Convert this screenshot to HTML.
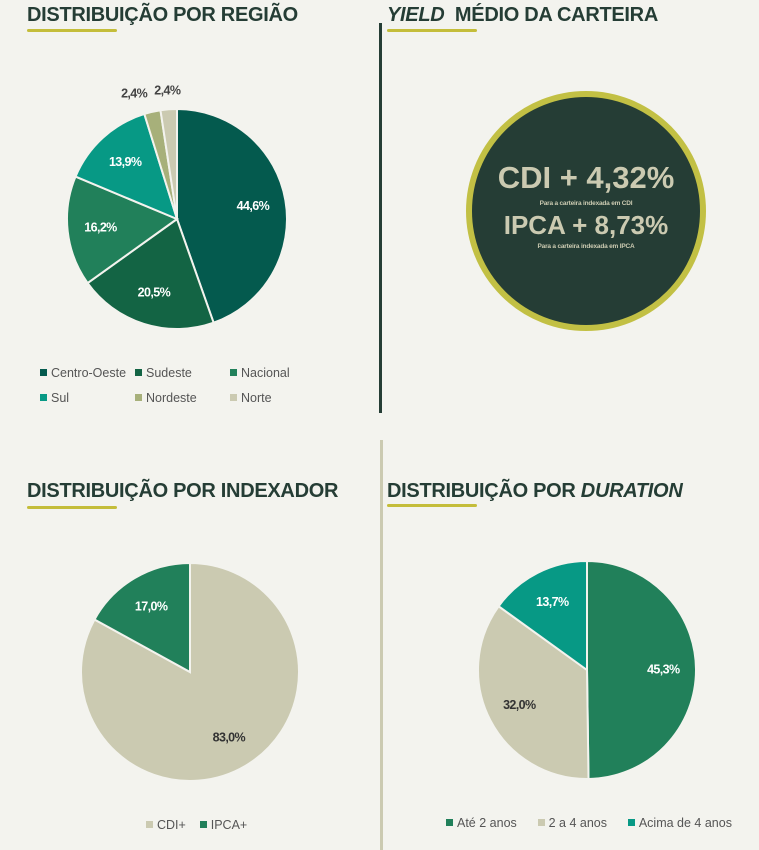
<!DOCTYPE html>
<html><head><meta charset="utf-8">
<style>
body{margin:0;background:#f3f3ee;}
#page{position:relative;width:759px;height:850px;background:#f3f3ee;font-family:"Liberation Sans",sans-serif;overflow:hidden;}
.title{position:absolute;font-weight:bold;font-size:20px;color:#253d35;letter-spacing:-0.3px;white-space:nowrap;}
.uline{position:absolute;height:3px;width:90px;background:#c4bd3a;border-radius:2px;}
.vline{position:absolute;width:3px;}
.legend{position:absolute;font-size:12.5px;color:#555;white-space:nowrap;}
.legend span.sw{display:inline-block;width:7px;height:7px;margin-right:4px;vertical-align:1px;}
svg text{font-family:"Liberation Sans",sans-serif;font-weight:bold;font-size:12.5px;letter-spacing:-0.6px;}
</style></head><body>
<div id="page">
<div class="title" style="left:27px;top:4px;">DISTRIBUIÇÃO POR REGIÃO</div>
<div class="uline" style="left:27px;top:29px;"></div>
<div class="title" style="left:387px;top:4px;"><i>YIELD</i>&nbsp; MÉDIO DA CARTEIRA</div>
<div class="uline" style="left:387px;top:29px;"></div>
<div class="title" style="left:27px;top:480px;">DISTRIBUIÇÃO POR INDEXADOR</div>
<div class="uline" style="left:27px;top:506px;"></div>
<div class="title" style="left:387px;top:480px;">DISTRIBUIÇÃO POR <i>DURATION</i></div>
<div class="uline" style="left:387px;top:504px;"></div>
<div class="vline" style="left:379px;top:23px;height:390px;background:#253d35;"></div>
<div class="vline" style="left:380px;top:440px;height:410px;background:#cbcab1;"></div>

<svg id="charts" width="759" height="850" style="position:absolute;left:0;top:0;">
<circle cx="586" cy="211" r="117" fill="#253d35" stroke="#c2c044" stroke-width="6"/>
<text x="586" y="188" text-anchor="middle" fill="#cbcab1" style="font-size:31px;letter-spacing:0">CDI + 4,32%</text>
<text x="586" y="205" text-anchor="middle" fill="#cbcab1" style="font-size:6.5px;letter-spacing:-0.2px">Para a carteira indexada em CDI</text>
<text x="586" y="234" text-anchor="middle" fill="#cbcab1" style="font-size:26px;letter-spacing:0">IPCA + 8,73%</text>
<text x="586" y="248" text-anchor="middle" fill="#cbcab1" style="font-size:6.5px;letter-spacing:-0.2px">Para a carteira indexada em IPCA</text>
</svg>

<div class="legend" style="left:40px;top:366px;">
<div style="position:absolute;left:0;top:0"><span class="sw" style="background:#045a4e"></span>Centro-Oeste</div>
<div style="position:absolute;left:95px;top:0"><span class="sw" style="background:#136444"></span>Sudeste</div>
<div style="position:absolute;left:190px;top:0"><span class="sw" style="background:#21805a"></span>Nacional</div>
<div style="position:absolute;left:0;top:25px"><span class="sw" style="background:#079985"></span>Sul</div>
<div style="position:absolute;left:95px;top:25px"><span class="sw" style="background:#a7b07a"></span>Nordeste</div>
<div style="position:absolute;left:190px;top:25px"><span class="sw" style="background:#cbcab1"></span>Norte</div>
</div>
<div class="legend" style="left:146px;top:818px;">
<span><span class="sw" style="background:#cbcab1"></span>CDI+</span>&nbsp;&nbsp;&nbsp;
<span><span class="sw" style="background:#21805a"></span>IPCA+</span>
</div>
<div class="legend" style="left:446px;top:816px;">
<span><span class="sw" style="background:#21805a"></span>Até 2 anos</span>&nbsp;&nbsp;&nbsp;&nbsp;&nbsp;
<span><span class="sw" style="background:#cbcab1"></span>2 a 4 anos</span>&nbsp;&nbsp;&nbsp;&nbsp;&nbsp;
<span><span class="sw" style="background:#079985"></span>Acima de 4 anos</span>
</div>
</div>
<script>
const regionCategories = ["Centro-Oeste","Sudeste","Nacional","Sul","Nordeste","Norte"];
const regionValues = [44.6,20.5,16.2,13.9,2.4,2.4];
const regionLabels = ["44,6%","20,5%","16,2%","13,9%","2,4%","2,4%"];
const regionColors = ["#045a4e","#136444","#21805a","#079985","#a7b07a","#cbcab1"];
const indexerCategories = ["CDI+","IPCA+"];
const indexerValues = [83.0,17.0];
const indexerLabels = ["83,0%","17,0%"];
const indexerColors = ["#cbcab1","#21805a"];
const durationCategories = ["Até 2 anos","2 a 4 anos","Acima de 4 anos"];
const durationValues = [45.3,32.0,13.7];
const durationLabels = ["45,3%","32,0%","13,7%"];
const durationColors = ["#21805a","#cbcab1","#079985"];

const NS="http://www.w3.org/2000/svg";
const svg=document.getElementById('charts');
function pt(cx,cy,r,a){return [cx+r*Math.sin(a),cy-r*Math.cos(a)];}
function drawPie(prefix,cats,vals,labels,colors,cx,cy,r,textColors,outside){
  const total=vals.reduce((s,v)=>s+v,0);
  let a0=0;
  vals.forEach((v,i)=>{
    const a1=a0+v/total*2*Math.PI;
    const p0=pt(cx,cy,r,a0),p1=pt(cx,cy,r,a1);
    const large=(a1-a0)>Math.PI?1:0;
    const path=document.createElementNS(NS,'path');
    path.setAttribute('d',`M${cx},${cy}L${p0[0]},${p0[1]}A${r},${r} 0 ${large} 1 ${p1[0]},${p1[1]}Z`);
    path.setAttribute('fill',colors[i]);
    path.setAttribute('stroke','#f3f3ee');
    path.setAttribute('stroke-width','2');
    
    
    svg.appendChild(path);
    const mid=(a0+a1)/2;
    const out=outside&&outside[i];
    const lp=pt(cx,cy,out?r*1.17:r*0.7,mid);
    const t=document.createElementNS(NS,'text');
    let lx=lp[0]; if(out&&i===4) lx-=14;
    t.setAttribute('x',lx);t.setAttribute('y',lp[1]+4);
    t.setAttribute('text-anchor','middle');
    t.setAttribute('fill',out?'#444':textColors[i]);
    t.textContent=labels[i];
    
    
    svg.appendChild(t);
    a0=a1;
  });
}
drawPie('region',regionCategories,regionValues,regionLabels,regionColors,177,219,110,["#fff","#fff","#fff","#fff","#444","#444"],[0,0,0,0,1,1]);
drawPie('indexer',indexerCategories,indexerValues,indexerLabels,indexerColors,190,672,109,["#333","#fff"],null);
drawPie('duration',durationCategories,durationValues,durationLabels,durationColors,587,670,109,["#fff","#333","#fff"],null);
</script>
</body></html>
